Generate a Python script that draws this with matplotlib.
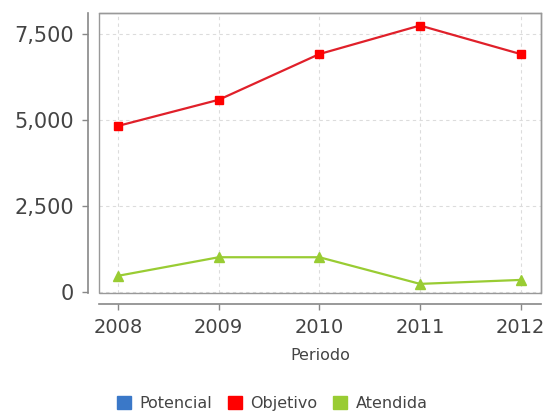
import matplotlib
matplotlib.use("Agg")
import matplotlib.pyplot as plt
from matplotlib.patches import Patch, Rectangle
from matplotlib.ticker import FuncFormatter

# data
years = [2008, 2009, 2010, 2011, 2012]
potencial = []  # no visible values in the chart
objetivo = [4830, 5590, 6920, 7750, 6920]
atendida = [470, 1010, 1010, 235, 350]

labels = ["Potencial", "Objetivo", "Atendida"]
colors = ["#3a78c8", "#ff0000", "#99cc33"]

text_color = "#444444"
plt.rcParams["font.family"] = ["DejaVu Sans"]

fig = plt.figure(figsize=(5.44, 4.13), dpi=100)
ax = fig.add_axes([0.182, 0.291, 0.812, 0.678])

ax.plot(years, objetivo, color="#e0202a", lw=1.6, marker="s", ms=6,
        mfc=colors[1], mec=colors[1], zorder=3)
ax.plot(years, atendida, color=colors[2], lw=1.6, marker="^", ms=7,
        mfc=colors[2], mec=colors[2], zorder=3)

ax.set_xlim(2007.81, 2012.2)
ax.set_ylim(-25, 8120)
ax.set_xticks(years)
ax.set_yticks([0, 2500, 5000, 7500])
ax.yaxis.set_major_formatter(FuncFormatter(lambda v, p: f"{int(v):,}"))

ax.grid(True, color="#dcdcdc", ls=(0, (3, 3)), lw=0.8)
ax.set_axisbelow(True)

# plot frame
for s in ["top", "right"]:
    ax.spines[s].set_color("#999999")
    ax.spines[s].set_linewidth(1)
ax.add_patch(Rectangle((0, 0), 1, 1, transform=ax.transAxes, fill=False,
                       ec="#999999", lw=1, clip_on=False, zorder=4))
# detached axis lines
for s in ["left", "bottom"]:
    ax.spines[s].set_position(("outward", 8))
    ax.spines[s].set_color("#888888")
    ax.spines[s].set_linewidth(1.2)

ax.tick_params(axis="both", colors="#888888", labelcolor=text_color,
               length=4, width=1, pad=6)
ax.tick_params(axis="x", labelsize=14)
ax.tick_params(axis="y", labelsize=15)

ax.set_xlabel("Periodo", fontsize=11.5, color=text_color, labelpad=8)

handles = [Patch(facecolor=c, edgecolor=c) for c in colors]
fig.legend(handles, labels, loc="lower center", bbox_to_anchor=(0.5, -0.03),
           ncol=3, frameon=False, fontsize=11.5, labelcolor=text_color,
           handlelength=0.9, handleheight=0.9, handletextpad=0.5,
           columnspacing=1.0)

fig.savefig("out.png", dpi=100)
